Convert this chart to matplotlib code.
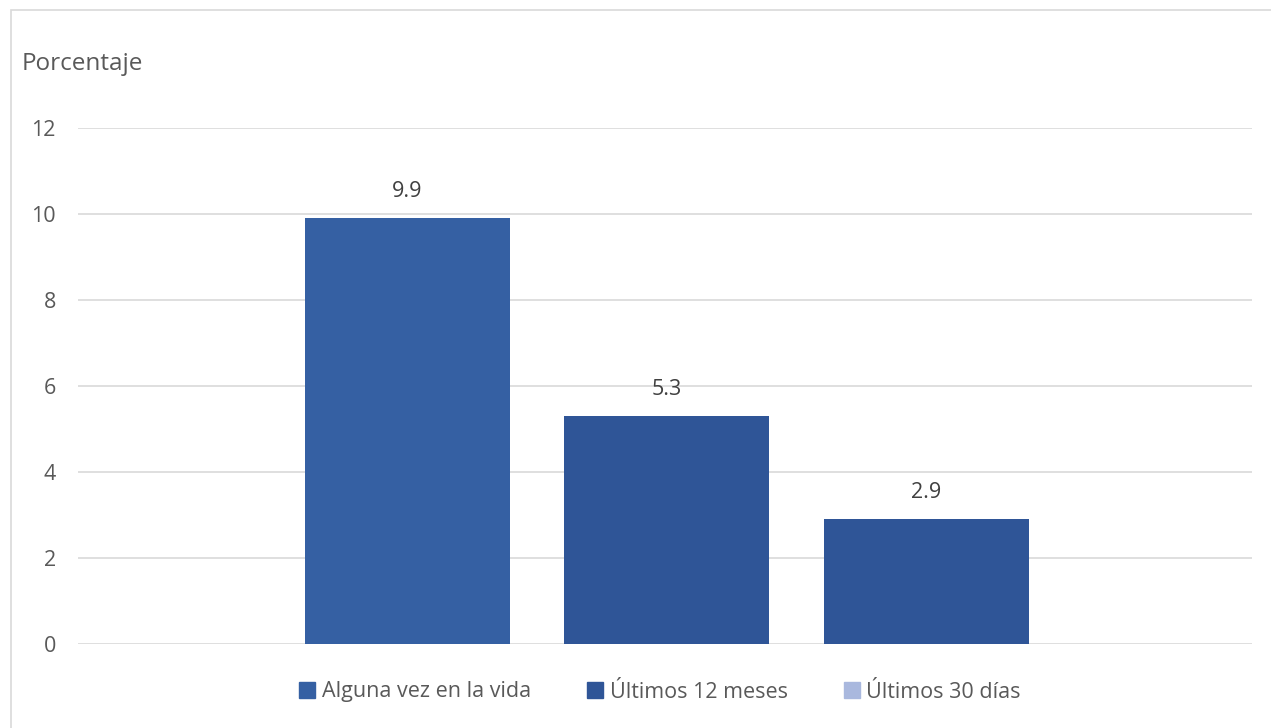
import matplotlib.pyplot as plt
from matplotlib.patches import Rectangle, Patch

series = ['Alguna vez en la vida', 'Últimos 12 meses', 'Últimos 30 días']
values = [9.9, 5.3, 2.9]
bar_colors = ['#3560A3', '#2F5597', '#2F5597']
legend_colors = ['#3560A3', '#2F5597', '#A9B8DE']
yticks = [0, 2, 4, 6, 8, 10, 12]

plt.rcParams['font.family'] = ['Open Sans', 'DejaVu Sans']

fig = plt.figure(figsize=(12.71, 7.28), dpi=100)
fig.patches.append(Rectangle((11/1271, -0.01), 1.02, 1 - 10/728 + 0.01,
                             transform=fig.transFigure, fill=False,
                             edgecolor='#D9D9D9', lw=1.2))
ax = fig.add_axes([78/1271, 1 - 644/728, (1252 - 78)/1271, (644 - 128)/728])

x = range(len(values))
bars = ax.bar(x, values, width=0.79, color=bar_colors, zorder=3)
for b, v in zip(bars, values):
    ax.text(b.get_x() + b.get_width()/2, v + 0.38, f'{v:.1f}', ha='center', va='bottom',
            fontsize=15.5, color='#404040')

ax.set_xlim(-1.268, 3.256)
ax.set_ylim(0, 12)
ax.set_yticks(yticks)
ax.set_yticklabels([str(t) for t in yticks], fontsize=15.5, color='#595959')
ax.tick_params(axis='y', length=0, pad=16)
ax.set_xticks([])
ax.grid(axis='y', color='#D9D9D9', lw=1.2, zorder=0)
for s in ax.spines.values():
    s.set_visible(False)

fig.text(22/1271, 1 - 64/728, 'Porcentaje', fontsize=17.5, color='#595959', va='center', ha='left')

handles = [Patch(color=c) for c in legend_colors]
fig.legend(handles, series, loc='center', bbox_to_anchor=(660/1271, 1 - 692/728), ncol=3,
           frameon=False, fontsize=15.5, handlelength=0.75, handleheight=0.75,
           handletextpad=0.3, columnspacing=2.6, labelcolor='#595959')

fig.savefig('out.png', dpi=100)
